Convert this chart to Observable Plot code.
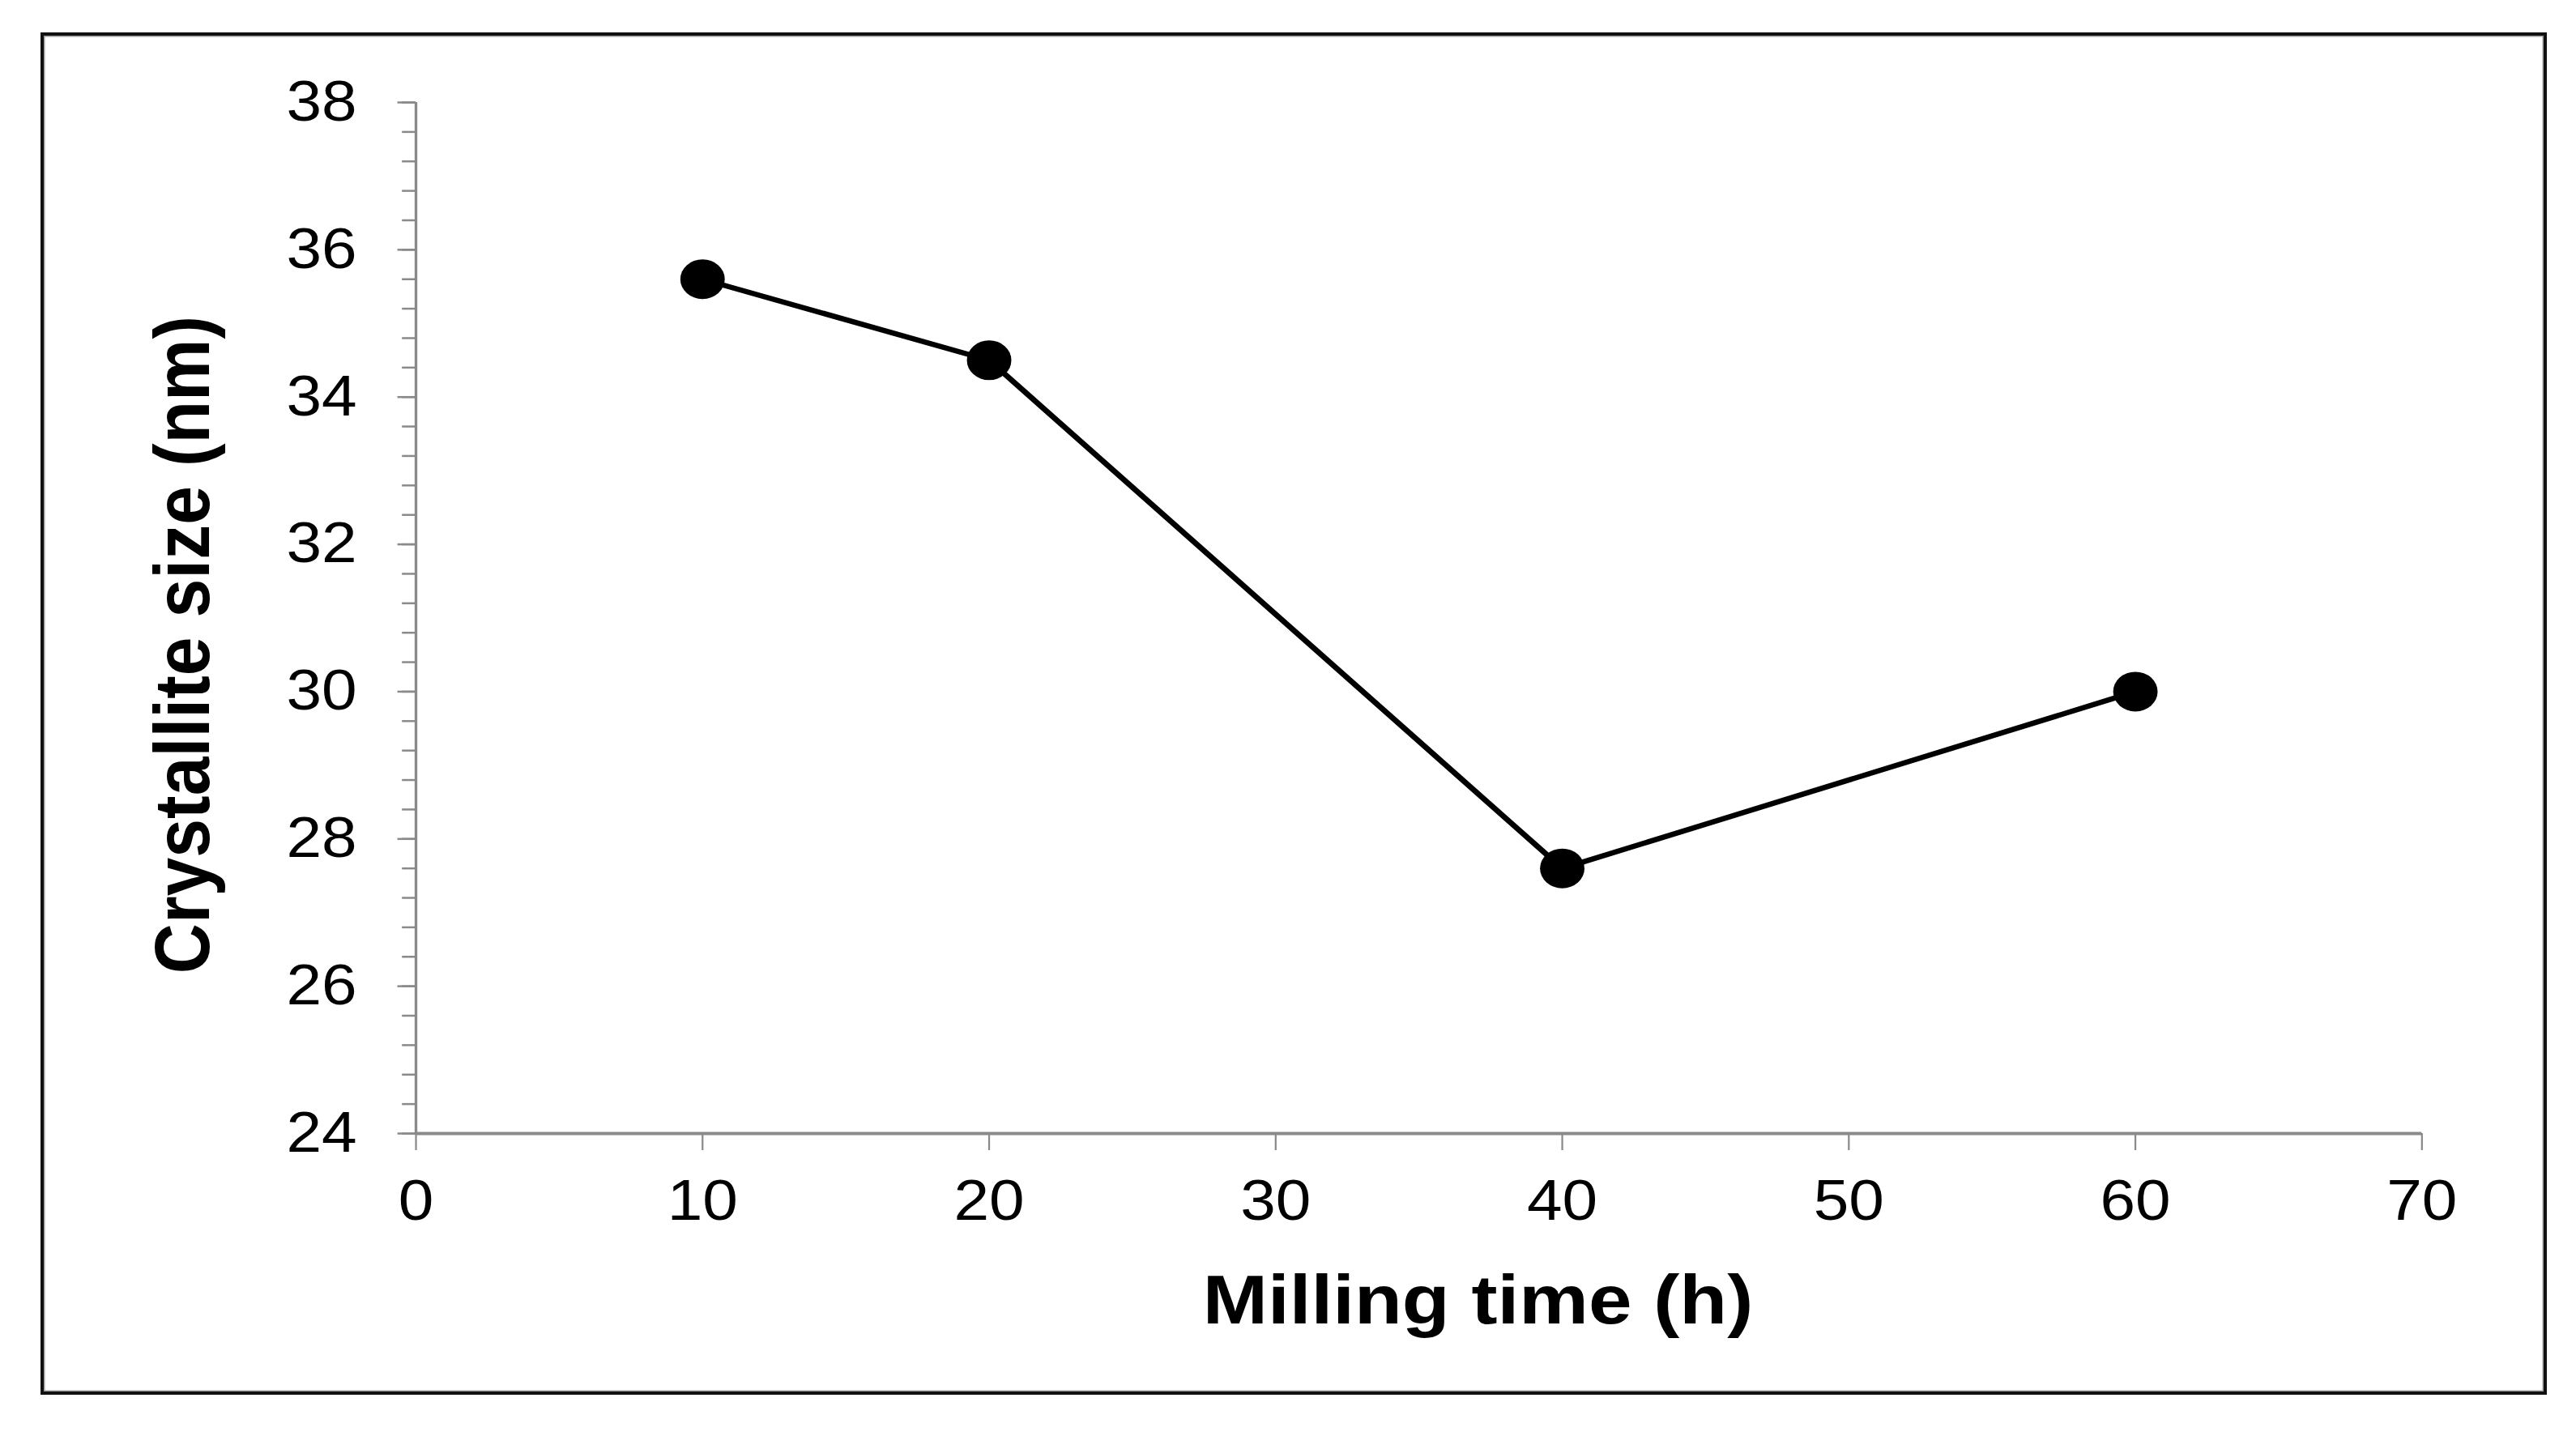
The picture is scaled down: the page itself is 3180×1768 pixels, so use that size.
<!DOCTYPE html>
<html>
<head>
<meta charset="utf-8">
<script src="https://cdn.jsdelivr.net/npm/d3@7"></script>
<script src="https://cdn.jsdelivr.net/npm/@observablehq/plot@0.6"></script>
<style>
  html, body { margin: 0; padding: 0; background: #fff; overflow: hidden; }
  #page { position: relative; width: 3180px; height: 1768px; background: #fff; }
  #frame { position: absolute; left: 50px; top: 40px; width: 3094px; height: 1682px;
           box-sizing: border-box; border: 4px solid #111; box-shadow: inset 0 0 0 1.5px #9a9a9a; }
  #chart { position: absolute; left: 0; top: 0; transform: scaleX(1.12); transform-origin: 0 0; }
</style>
</head>
<body>
<div id="page">
  <div id="frame"></div>
  <div id="chart"></div>
</div>
<script>
// Data
const millingTime = [10, 20, 40, 60];
const crystalliteSize = [35.6, 34.5, 27.6, 30.0];
const xTicks = [0, 10, 20, 30, 40, 50, 60, 70];
const yTicks = [24, 26, 28, 30, 32, 34, 36, 38];
const yMinorStep = 0.4;
const xLabel = "Milling time (h)";
const yLabel = "Crystallite size (nm)";

const data = millingTime.map((t, i) => ({t, s: crystalliteSize[i]}));
const yMinor = d3.range(0, Math.round((38 - 24) / yMinorStep) + 1).map(k => +(24 + k * yMinorStep).toFixed(2));

const gray = "#8a8a8a";
const font = "'Liberation Sans', Arial, Helvetica, sans-serif";

const chart = Plot.plot({
  width: 2839,
  height: 1768,
  marginLeft: 458,
  marginRight: 170,
  marginTop: 126,
  marginBottom: 369,
  x: {domain: [0, 70]},
  y: {domain: [24, 38]},
  style: {fontFamily: font, background: "transparent", overflow: "visible", color: "black"},
  marks: [
    Plot.axisY(yMinor, {tickSize: 15, text: null, stroke: gray, strokeWidth: 2.5, label: null}),
    Plot.axisY(yTicks, {tickSize: 20, tickPadding: 45, fontSize: 70, tickFormat: d => String(d), stroke: gray, strokeWidth: 2.5, fill: "black", label: null}),
    Plot.axisX(xTicks, {tickSize: 21, tickPadding: 36, fontSize: 70, tickFormat: d => String(d), stroke: gray, strokeWidth: 2, fill: "black", label: null}),
    Plot.ruleX([0], {stroke: gray, strokeWidth: 3}),
    Plot.ruleY([24], {stroke: gray, strokeWidth: 4}),
    Plot.line(data, {x: "t", y: "s", stroke: "black", strokeWidth: 6.5}),
    Plot.dot(data, {x: "t", y: "s", r: 24.5, fill: "black"}),
    Plot.text([yLabel], {frameAnchor: "left", textAnchor: "middle", rotate: -90, dx: -256, dy: 33, fontSize: 86, fontWeight: "bold", fill: "black", lineAnchor: "middle"}),
    Plot.text([xLabel], {frameAnchor: "bottom", textAnchor: "middle", dx: 65, dy: 207, fontSize: 86, fontWeight: "bold", fill: "black", lineAnchor: "middle"})
  ]
});
document.getElementById("chart").appendChild(chart);
</script>
</body>
</html>
